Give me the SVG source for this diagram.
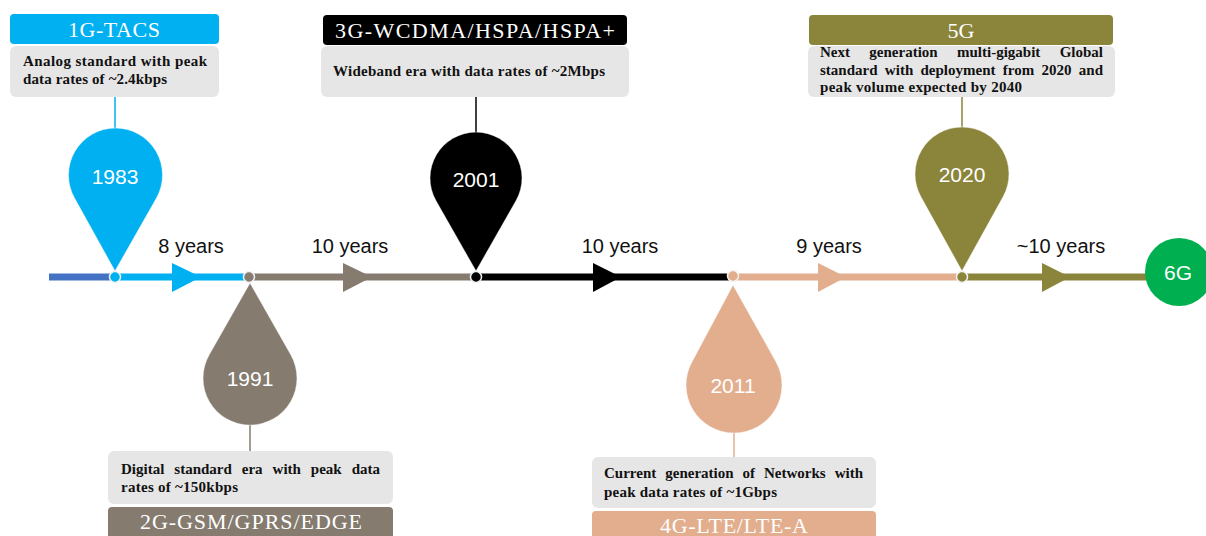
<svg xmlns="http://www.w3.org/2000/svg" width="1206" height="536" viewBox="0 0 1206 536">
<defs>
<style>
.hdr{font-family:"Liberation Serif",serif;font-size:22px;fill:#fff;text-anchor:middle}
.body{font-family:"Liberation Serif",serif;font-size:15px;font-weight:bold;fill:#111}
.box{fill:#E6E6E6}
.yr{font-family:"Liberation Sans",Arial,sans-serif;font-size:21px;fill:#fff;text-anchor:middle}
.dur{font-family:"Liberation Sans",Arial,sans-serif;font-size:20px;fill:#111;text-anchor:middle}
.seg{stroke-width:7;fill:none}
.node{stroke:#f2f2f2;stroke-width:1.5}
.pin{stroke:#fff;stroke-width:0.8;stroke-opacity:0.6}
</style>
</defs>
<rect width="1206" height="536" fill="#fff"/>

<g id="connectors">
  <line class="seg" x1="49" y1="277" x2="112" y2="277" stroke="#4472C4"/>
  <line class="seg" x1="118" y1="277" x2="246" y2="277" stroke="#00B0F0"/>
  <polygon points="172,263 172,292 201,277" fill="#00B0F0"/>
  <line class="seg" x1="252" y1="277" x2="473" y2="277" stroke="#857B6F"/>
  <polygon points="343,263 343,292 372,277" fill="#857B6F"/>
  <line class="seg" x1="479" y1="277" x2="730" y2="277" stroke="#000"/>
  <polygon points="593,263 593,292 621,277" fill="#000"/>
  <line class="seg" x1="736" y1="277" x2="959" y2="277" stroke="#E2AE8E"/>
  <polygon points="818,263 818,292 846,277" fill="#E2AE8E"/>
  <line class="seg" x1="965" y1="277" x2="1150" y2="277" stroke="#8B843B"/>
  <polygon points="1042,263 1042,292 1070,277" fill="#8B843B"/>
  <line x1="115" y1="97" x2="115" y2="130" stroke="#00B0F0" stroke-width="1.5"/>
  <line x1="476" y1="97" x2="476" y2="134" stroke="#000" stroke-width="1.5"/>
  <line x1="962" y1="97" x2="962" y2="129" stroke="#8B843B" stroke-width="1.5"/>
  <line x1="250" y1="424" x2="250" y2="451" stroke="#857B6F" stroke-width="1.5"/>
  <line x1="734" y1="432" x2="734" y2="457" stroke="#E2AE8E" stroke-width="1.5"/>
  <text class="dur" x="191" y="253">8 years</text>
  <text class="dur" x="350" y="253">10 years</text>
  <text class="dur" x="620" y="253">10 years</text>
  <text class="dur" x="829" y="253">9 years</text>
  <text class="dur" x="1061" y="253">~10 years</text>
</g>

<g id="gen1">
  <rect x="10" y="14" width="209" height="30" rx="4" fill="#00B0F0"/>
  <text class="hdr" x="114" y="37" textLength="92">1G-TACS</text>
  <rect class="box" x="10" y="46" width="209" height="51" rx="6"/>
  <text class="body" x="23" y="66" textLength="184">Analog standard with peak</text>
  <text class="body" x="23" y="84" textLength="144">data rates of ~2.4kbps</text>
</g>
<g id="pin1983">
  <path class="pin" d="M115,271 L74.5,198 A47,47 0 1 1 156.5,198 Z" fill="#00B0F0"/>
  <circle class="node" cx="115" cy="277" r="5.5" fill="#00B0F0"/>
  <text class="yr" x="115" y="184">1983</text>
</g>

<g id="pin1991">
  <path class="pin" d="M250,283 L209.2,354.8 A47,47 0 1 0 290.8,354.8 Z" fill="#857B6F"/>
  <circle class="node" cx="249" cy="277" r="5.5" fill="#857B6F"/>
  <text class="yr" x="250" y="386">1991</text>
</g>
<g id="gen2">
  <rect class="box" x="108" y="451" width="285" height="53" rx="6"/>
  <text class="body" x="121" y="474" word-spacing="6.2" textLength="259">Digital standard era with peak data</text>
  <text class="body" x="121" y="492" textLength="117">rates of ~150kbps</text>
  <rect x="108" y="507" width="285" height="35" rx="4" fill="#857B6F"/>
  <text class="hdr" x="251" y="529" textLength="222">2G-GSM/GPRS/EDGE</text>
</g>

<g id="gen3">
  <rect x="323" y="15" width="304" height="30" rx="4" fill="#000"/>
  <text class="hdr" x="475" y="38" textLength="280">3G-WCDMA/HSPA/HSPA+</text>
  <rect class="box" x="321" y="46" width="308" height="51" rx="6"/>
  <text class="body" x="333" y="76" textLength="272">Wideband era with data rates of ~2Mbps</text>
</g>
<g id="pin2001">
  <path class="pin" d="M476,271 L436,200.8 A46,46 0 1 1 516,200.8 Z" fill="#000"/>
  <circle class="node" cx="476" cy="277" r="5.5" fill="#000"/>
  <text class="yr" x="476" y="187">2001</text>
</g>

<g id="pin2011">
  <path class="pin" d="M733,285 L691.9,362 A48,48 0 1 0 776.1,362 Z" fill="#E2AE8E"/>
  <circle class="node" cx="733" cy="276" r="5.5" fill="#E2AE8E"/>
  <text class="yr" x="733" y="393">2011</text>
</g>
<g id="gen4">
  <rect class="box" x="592" y="457" width="284" height="51" rx="6"/>
  <text class="body" x="604" y="478" word-spacing="5.2" textLength="259">Current generation of Networks with</text>
  <text class="body" x="604" y="497" textLength="173">peak data rates of ~1Gbps</text>
  <rect x="592" y="511" width="284" height="32" rx="4" fill="#E2AE8E"/>
  <text class="hdr" x="734" y="533" font-size="21" textLength="148">4G-LTE/LTE-A</text>
</g>

<g id="gen5">
  <rect x="809" y="15" width="304" height="30" rx="4" fill="#8B843B"/>
  <text class="hdr" x="961" y="38" textLength="27">5G</text>
  <rect class="box" x="808" y="46" width="307" height="51" rx="6"/>
  <text class="body" x="820" y="57" word-spacing="15.6" textLength="283">Next generation multi-gigabit Global</text>
  <text class="body" x="820" y="75" word-spacing="3.5" textLength="283">standard with deployment from 2020 and</text>
  <text class="body" x="820" y="92" textLength="202">peak volume expected by 2040</text>
</g>
<g id="pin2020">
  <path class="pin" d="M962,271 L920.9,196.8 A47,47 0 1 1 1003.1,196.8 Z" fill="#8B843B"/>
  <circle class="node" cx="962" cy="277" r="5.5" fill="#8B843B"/>
  <text class="yr" x="962" y="182">2020</text>
</g>

<g id="gen6">
  <circle cx="1179" cy="272" r="34" fill="#00B050"/>
  <text class="yr" x="1178" y="280">6G</text>
</g>
</svg>
